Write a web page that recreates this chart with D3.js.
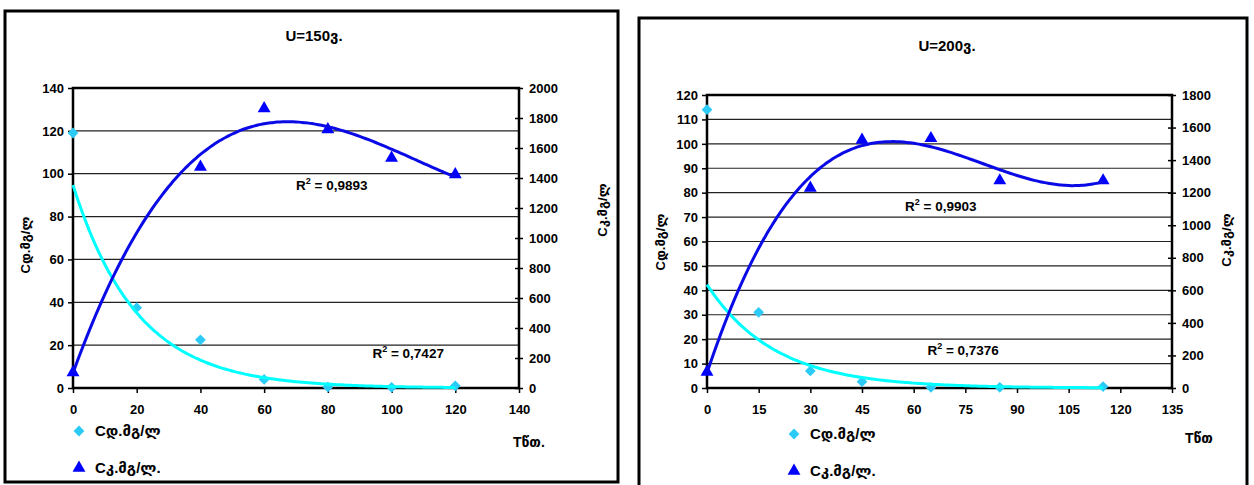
<!DOCTYPE html>
<html>
<head>
<meta charset="utf-8">
<script src="https://cdn.jsdelivr.net/npm/d3@7"></script>
<style>
body{margin:0;background:#fff;}
svg{display:block;}
text{font-family:"Liberation Sans",Arial,"DejaVu Sans",sans-serif;font-weight:bold;fill:#000;}
</style>
</head>
<body>
<div id="container"></div>
<script>
// ---- U=150 chart ----
var time150 = [0, 20, 40, 60, 80, 100, 120];
var cd150 = [119, 37.5, 22.5, 4, 0.5, 0.3, 1];
var timeK150 = [0, 40, 60, 80, 100, 120];
var ck150 = [110, 1480, 1870, 1730, 1540, 1430];
var xTicks150 = [0, 20, 40, 60, 80, 100, 120, 140];
var yLeftTicks150 = [0, 20, 40, 60, 80, 100, 120, 140];
var yRightTicks150 = [0, 200, 400, 600, 800, 1000, 1200, 1400, 1600, 1800, 2000];

// ---- U=200 chart ----
var time200 = [0, 15, 30, 45, 65, 85, 115];
var cd200 = [114, 31, 7, 2.6, 0.3, 0.3, 0.6];
var timeK200 = [0, 30, 45, 65, 85, 115];
var ck200 = [105, 1235, 1530, 1540, 1280, 1280];
var xTicks200 = [0, 15, 30, 45, 60, 75, 90, 105, 120, 135];
var yLeftTicks200 = [0, 10, 20, 30, 40, 50, 60, 70, 80, 90, 100, 110, 120];
var yRightTicks200 = [0, 200, 400, 600, 800, 1000, 1200, 1400, 1600, 1800];

var legendNames = ["Cდ.მგ/ლ", "Cკ.მგ/ლ."];

var W = 1254, H = 485;
var svg = d3.select('#container').append('svg')
	.attr('width', W).attr('height', H);

// exponential trend (least squares on ln y, like excel)
function expFit(xs, ys){
	var ly = ys.map(Math.log);
	var mx = d3.mean(xs), my = d3.mean(ly);
	var sxy = 0, sxx = 0;
	for(var i = 0; i < xs.length; i++){
		sxy += (xs[i] - mx) * (ly[i] - my);
		sxx += (xs[i] - mx) * (xs[i] - mx);
	}
	var b = sxy / sxx;
	var a = Math.exp(my - b * mx);
	return function(x){ return a * Math.exp(b * x); };
}

// polynomial trend, normal equations + gauss elimination
function polyFit(xs, ys, order){
	var n = order + 1;
	var m = [];
	for(var r = 0; r < n; r++){
		m.push([]);
		for(var c = 0; c < n; c++){
			m[r].push(d3.sum(xs, function(x){ return Math.pow(x, r + c); }));
		}
		m[r].push(d3.sum(xs, function(x, i){ return Math.pow(x, r) * ys[i]; }));
	}
	for(var k = 0; k < n; k++){
		var p = k;
		for(var r2 = k + 1; r2 < n; r2++) if(Math.abs(m[r2][k]) > Math.abs(m[p][k])) p = r2;
		var tmp = m[k]; m[k] = m[p]; m[p] = tmp;
		for(var r3 = k + 1; r3 < n; r3++){
			var f = m[r3][k] / m[k][k];
			for(var c2 = k; c2 <= n; c2++) m[r3][c2] -= f * m[k][c2];
		}
	}
	var coef = new Array(n);
	for(var i = n - 1; i >= 0; i--){
		var s = m[i][n];
		for(var j = i + 1; j < n; j++) s -= m[i][j] * coef[j];
		coef[i] = s / m[i][i];
	}
	return function(x){
		var v = 0;
		for(var q = 0; q < n; q++) v += coef[q] * Math.pow(x, q);
		return v;
	};
}

var diamond = d3.symbol().type(d3.symbolSquare).size(58);
var triangle = d3.symbol().type(d3.symbolTriangle).size(72);

function addR2(g, x, y, value){
	var t = g.append('text').attr('x', x).attr('y', y).style('font-size', '13.5px');
	t.append('tspan').text('R');
	t.append('tspan').attr('dy', -6).style('font-size', '9px').text('2');
	t.append('tspan').attr('dy', 6).text(' = ' + value);
}

function drawChart(cfg){
	var g = svg.append('g');

	// outer chart frame
	g.append('rect')
		.attr('x', cfg.frame[0]).attr('y', cfg.frame[1])
		.attr('width', cfg.frame[2]).attr('height', cfg.frame[3])
		.attr('fill', '#fff').attr('stroke', '#000').attr('stroke-width', 3);

	var x = d3.scaleLinear().domain(d3.extent(cfg.xTicks)).range([cfg.left, cfg.right]);
	var yL = d3.scaleLinear().domain(d3.extent(cfg.yLeftTicks)).range([cfg.bottom, cfg.top]);
	var yR = d3.scaleLinear().domain(d3.extent(cfg.yRightTicks)).range([cfg.bottom, cfg.top]);

	// gridlines
	g.append('g').selectAll('line')
		.data(cfg.yLeftTicks.slice(1, -1))
		.enter().append('line')
		.attr('x1', cfg.left).attr('x2', cfg.right)
		.attr('y1', function(d){ return yL(d); })
		.attr('y2', function(d){ return yL(d); })
		.attr('stroke', '#222').attr('stroke-width', 1.2);

	// plot area border
	g.append('rect')
		.attr('x', cfg.left).attr('y', cfg.top)
		.attr('width', cfg.right - cfg.left).attr('height', cfg.bottom - cfg.top)
		.attr('fill', 'none').attr('stroke', '#000').attr('stroke-width', 2.5);

	var axL = g.append('g').attr('transform', 'translate(' + cfg.left + ',0)')
		.call(d3.axisLeft(yL).tickValues(cfg.yLeftTicks).tickSize(5).tickPadding(4).tickFormat(d3.format('d')));
	var axB = g.append('g').attr('transform', 'translate(0,' + cfg.bottom + ')')
		.call(d3.axisBottom(x).tickValues(cfg.xTicks).tickSize(5).tickPadding(12).tickFormat(d3.format('d')));
	var axR = g.append('g').attr('transform', 'translate(' + cfg.right + ',0)')
		.call(d3.axisRight(yR).tickValues(cfg.yRightTicks).tickSize(4).tickPadding(6).tickFormat(d3.format('d')));
	axR.selectAll('.tick line').attr('x1', -4);
	[axL, axB, axR].forEach(function(a){
		a.select('.domain').remove();
		a.selectAll('.tick line').attr('stroke', '#000').attr('stroke-width', 1.5);
		a.selectAll('text').style('font-size', '13px').style('font-weight', 'bold')
			.style('font-family', '"Liberation Sans",Arial,sans-serif');
	});

	// trend lines
	var fitD = expFit(cfg.timeD, cfg.cd);
	var fitK = polyFit(cfg.timeK, cfg.ck, 3);
	var xs = d3.range(0, d3.max(cfg.timeD) + 0.01, 1);
	var line = d3.line().curve(d3.curveMonotoneX);

	// markers
	g.append('g').selectAll('path')
		.data(cfg.cd).enter().append('path')
		.attr('d', diamond)
		.attr('transform', function(d, i){ return 'translate(' + x(cfg.timeD[i]) + ',' + yL(d) + ') rotate(45)'; })
		.attr('fill', '#2ccbf7');
	g.append('g').selectAll('path')
		.data(cfg.ck).enter().append('path')
		.attr('d', triangle)
		.attr('transform', function(d, i){ return 'translate(' + x(cfg.timeK[i]) + ',' + (yR(d) + 1) + ')'; })
		.attr('fill', '#0000ff');

	g.append('path')
		.attr('d', line(xs.map(function(v){ return [x(v), yL(fitD(v))]; })))
		.attr('fill', 'none').attr('stroke', '#00ffff').attr('stroke-width', 3);
	g.append('path')
		.attr('d', line(d3.range(0, d3.max(cfg.timeK) + 0.01, 1).map(function(v){ return [x(v), yR(fitK(v))]; })))
		.attr('fill', 'none').attr('stroke', '#0a0ae6').attr('stroke-width', 3);

	// R2 labels
	addR2(g, x(cfg.r2K[0]), yL(cfg.r2K[1]), cfg.r2K[2]);
	addR2(g, x(cfg.r2D[0]), yL(cfg.r2D[1]), cfg.r2D[2]);

	// title
	g.append('text').attr('x', cfg.titlePos[0]).attr('y', cfg.titlePos[1])
		.attr('text-anchor', 'middle').style('font-size', '15px').text(cfg.title);

	// axis titles
	g.append('text')
		.attr('transform', 'translate(' + cfg.yLTitle[0] + ',' + cfg.yLTitle[1] + ') rotate(-90)')
		.attr('text-anchor', 'middle').style('font-size', '13px').text("Cდ.მგ/ლ");
	g.append('text')
		.attr('transform', 'translate(' + cfg.yRTitle[0] + ',' + cfg.yRTitle[1] + ') rotate(-90)')
		.attr('text-anchor', 'middle').style('font-size', '13px').text("Cკ.მგ/ლ");
	g.append('text').attr('x', cfg.xTitle[0]).attr('y', cfg.xTitle[1])
		.style('font-size', '14px').text(cfg.xTitleText);

	// legend
	var lg = g.append('g').attr('transform', 'translate(' + cfg.legend[0] + ',' + cfg.legend[1] + ')');
	lg.append('path').attr('d', diamond).attr('transform', 'translate(0,0) rotate(45)').attr('fill', '#2ccbf7');
	lg.append('text').attr('x', 16).attr('y', 5).style('font-size', '15px').text(legendNames[0]);
	lg.append('path').attr('d', triangle).attr('transform', 'translate(0,37)').attr('fill', '#0000ff');
	lg.append('text').attr('x', 16).attr('y', 42).style('font-size', '15px').text(legendNames[1]);
}

drawChart({
	frame: [5, 11, 613, 471],
	left: 73, right: 519, top: 88, bottom: 388,
	xTicks: xTicks150, yLeftTicks: yLeftTicks150, yRightTicks: yRightTicks150,
	timeD: time150, cd: cd150, timeK: timeK150, ck: ck150,
	r2K: [70, 92.5, "0,9893"], r2D: [94, 14, "0,7427"],
	title: "U=150ვ.", titlePos: [314, 41],
	yLTitle: [30, 245], yRTitle: [607, 210],
	xTitle: [513, 447], xTitleText: "Tწთ.",
	legend: [79, 431]
});

drawChart({
	frame: [639, 18, 608, 475],
	left: 707, right: 1172, top: 95, bottom: 388,
	xTicks: xTicks200, yLeftTicks: yLeftTicks200, yRightTicks: yRightTicks200,
	timeD: time200, cd: cd200, timeK: timeK200, ck: ck200,
	r2K: [57.5, 72.5, "0,9903"], r2D: [64, 13.5, "0,7376"],
	title: "U=200ვ.", titlePos: [947, 51],
	yLTitle: [665, 242], yRTitle: [1231, 240],
	xTitle: [1185, 443], xTitleText: "Tწთ",
	legend: [794, 434]
});
</script>
</body>
</html>
